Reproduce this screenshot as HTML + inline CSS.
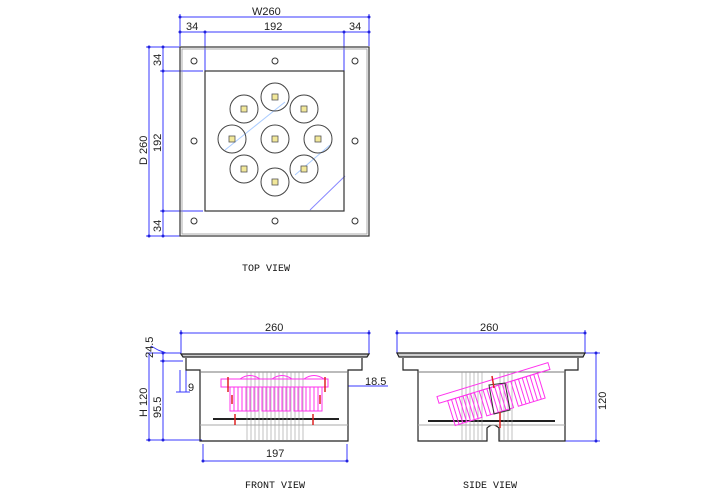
<!DOCTYPE html>
<html><head><meta charset="utf-8"><style>
html,body{margin:0;padding:0;background:#fff;}
svg{display:block}
text{font-family:"Liberation Sans",sans-serif;font-size:11px;fill:#222}
.m{font-family:"Liberation Mono",monospace;font-size:10px;fill:#111}
</style></head><body>
<svg width="706" height="497" viewBox="0 0 706 497" xmlns="http://www.w3.org/2000/svg">
<g stroke="#3a3aff" stroke-width="1" fill="none">
<line x1="180" y1="17" x2="369" y2="17"/><line x1="180" y1="14" x2="180" y2="46"/><line x1="369" y1="14" x2="369" y2="46"/>
<line x1="180" y1="32" x2="369" y2="32"/><line x1="205" y1="32" x2="205" y2="71"/><line x1="344" y1="32" x2="344" y2="71"/>
<line x1="149" y1="47" x2="149" y2="236"/><line x1="163" y1="47" x2="163" y2="236"/>
<line x1="146" y1="47" x2="180" y2="47"/><line x1="160" y1="71" x2="203" y2="71"/><line x1="160" y1="211" x2="203" y2="211"/><line x1="146" y1="236" x2="180" y2="236"/>
<line x1="310" y1="210" x2="345" y2="176" stroke="#8888ff"/>
<line x1="225" y1="150" x2="285" y2="102" stroke="#aaccff"/>
<line x1="295" y1="175" x2="330" y2="145" stroke="#aaccff"/>
<line x1="181" y1="333" x2="369" y2="333"/><line x1="181" y1="330" x2="181" y2="354"/><line x1="369" y1="330" x2="369" y2="354"/>
<line x1="149" y1="353" x2="149" y2="440"/><line x1="163" y1="353" x2="163" y2="440"/>
<line x1="146" y1="353" x2="181" y2="353"/><line x1="160" y1="361" x2="183" y2="361"/><line x1="146" y1="440" x2="202" y2="440"/>
<line x1="180" y1="370" x2="180" y2="392"/><line x1="186" y1="370" x2="186" y2="392"/><line x1="176" y1="392" x2="190" y2="392"/>
<line x1="348" y1="386" x2="388" y2="386"/>
<line x1="203" y1="444" x2="203" y2="462"/><line x1="347" y1="444" x2="347" y2="462"/><line x1="203" y1="461" x2="347" y2="461"/>
<line x1="151" y1="346" x2="158" y2="350"/><line x1="158" y1="350" x2="166" y2="353"/>
<line x1="397" y1="333" x2="585" y2="333"/><line x1="397" y1="330" x2="397" y2="354"/><line x1="585" y1="330" x2="585" y2="354"/>
<line x1="596" y1="353" x2="596" y2="441"/><line x1="585" y1="353" x2="600" y2="353"/><line x1="565" y1="441" x2="600" y2="441"/>
</g>
<g fill="#2222dd">
<circle cx="180" cy="17" r="1.5"/><circle cx="369" cy="17" r="1.5"/><circle cx="180" cy="32" r="1.5"/><circle cx="205" cy="32" r="1.5"/><circle cx="344" cy="32" r="1.5"/><circle cx="369" cy="32" r="1.5"/>
<circle cx="149" cy="47" r="1.5"/><circle cx="149" cy="236" r="1.5"/><circle cx="163" cy="47" r="1.5"/><circle cx="163" cy="71" r="1.5"/><circle cx="163" cy="211" r="1.5"/><circle cx="163" cy="236" r="1.5"/>
<circle cx="181" cy="333" r="1.5"/><circle cx="369" cy="333" r="1.5"/><circle cx="203" cy="461" r="1.5"/><circle cx="347" cy="461" r="1.5"/>
<circle cx="149" cy="440" r="1.5"/><circle cx="163" cy="440" r="1.5"/><circle cx="163" cy="353" r="1.5"/><circle cx="163" cy="361" r="1.5"/>
<circle cx="397" cy="333" r="1.5"/><circle cx="585" cy="333" r="1.5"/><circle cx="596" cy="353" r="1.5"/><circle cx="596" cy="441" r="1.5"/>
</g>
<rect x="180" y="47" width="189" height="189" fill="none" stroke="#333" stroke-width="1.2"/>
<rect x="182" y="49" width="185" height="185" fill="none" stroke="#999" stroke-width="0.8"/>
<rect x="205" y="71" width="139" height="140" fill="none" stroke="#333" stroke-width="1.2"/>
<g fill="none" stroke="#333" stroke-width="1">
<circle cx="194" cy="61" r="3"/><circle cx="275" cy="61" r="3"/><circle cx="355" cy="61" r="3"/>
<circle cx="194" cy="141" r="3"/><circle cx="355" cy="141" r="3"/>
<circle cx="194" cy="221" r="3"/><circle cx="275" cy="221" r="3"/><circle cx="355" cy="221" r="3"/>
<g stroke="#444">
<circle cx="275" cy="97" r="14"/><circle cx="244" cy="109" r="14"/><circle cx="304" cy="109" r="14"/>
<circle cx="232" cy="139" r="14"/><circle cx="275" cy="139" r="14"/><circle cx="318" cy="139" r="14"/>
<circle cx="244" cy="169" r="14"/><circle cx="304" cy="169" r="14"/><circle cx="275" cy="182" r="14"/>
</g></g>
<g fill="#f2e89a" stroke="#555" stroke-width="0.8">
<rect x="272" y="94" width="6" height="6"/><rect x="241" y="106" width="6" height="6"/><rect x="301" y="106" width="6" height="6"/>
<rect x="229" y="136" width="6" height="6"/><rect x="272" y="136" width="6" height="6"/><rect x="315" y="136" width="6" height="6"/>
<rect x="241" y="166" width="6" height="6"/><rect x="301" y="166" width="6" height="6"/><rect x="272" y="179" width="6" height="6"/>
</g>
<text x="242" y="271" class="m">TOP  VIEW</text>
<text x="245" y="488" class="m">FRONT  VIEW</text>
<text x="463" y="488" class="m">SIDE  VIEW</text>
<text x="252" y="15">W260</text>
<text x="186" y="30">34</text><text x="264" y="30">192</text><text x="349" y="30">34</text>
<text transform="translate(147,165) rotate(-90)">D 260</text>
<text transform="translate(161,152) rotate(-90)">192</text>
<text transform="translate(161,66) rotate(-90)">34</text>
<text transform="translate(161,232) rotate(-90)">34</text>
<text x="265" y="331">260</text><text x="480" y="331">260</text>
<text x="266" y="457">197</text>
<text x="365" y="385">18.5</text>
<text x="188" y="391">9</text>
<text transform="translate(147,417) rotate(-90)">H 120</text>
<text transform="translate(161,418) rotate(-90)">95.5</text>
<text transform="translate(153,358) rotate(-90)">24.5</text>
<text transform="translate(606,410) rotate(-90)">120</text>
<g fill="none" stroke="#222">
<path d="M181 354 L369 354 L367 357 L183 357 Z" fill="#ccc" stroke-width="1.2"/>
<path d="M186 358 L186 370 L200 370 L200 441 L348 441 L348 370 L362 370 L362 358" stroke-width="1.2"/>
<line x1="200" y1="372" x2="348" y2="372" stroke="#777"/>
<line x1="200" y1="425" x2="348" y2="425" stroke="#aaa"/>
<line x1="213" y1="419" x2="339" y2="419" stroke-width="2"/>
</g>
<g stroke="#999" stroke-width="0.6">
<line x1="247" y1="372" x2="247" y2="440"/><line x1="251" y1="372" x2="251" y2="440"/><line x1="255" y1="372" x2="255" y2="440"/><line x1="259" y1="372" x2="259" y2="440"/><line x1="263" y1="372" x2="263" y2="440"/><line x1="267" y1="372" x2="267" y2="440"/><line x1="271" y1="372" x2="271" y2="440"/><line x1="275" y1="372" x2="275" y2="440"/><line x1="279" y1="372" x2="279" y2="440"/><line x1="283" y1="372" x2="283" y2="440"/><line x1="287" y1="372" x2="287" y2="440"/><line x1="291" y1="372" x2="291" y2="440"/><line x1="295" y1="372" x2="295" y2="440"/><line x1="299" y1="372" x2="299" y2="440"/><line x1="303" y1="372" x2="303" y2="440"/>
</g>
<g stroke="#ff33ee" fill="none" stroke-width="1">
<rect x="221" y="379" width="107" height="8"/>
<path d="M240 379 Q250 372 260 379 M272 379 Q282 372 292 379 M304 379 Q314 372 324 379"/>
<rect x="230" y="387" width="28" height="24"/><rect x="262" y="387" width="28" height="24"/><rect x="294" y="387" width="28" height="24"/>
<path d="M234 387V411M238 387V411M242 387V411M246 387V411M250 387V411M254 387V411M266 387V411M270 387V411M274 387V411M278 387V411M282 387V411M286 387V411M298 387V411M302 387V411M306 387V411M310 387V411M314 387V411M318 387V411"/>
</g>
<g stroke="#dd2222" stroke-width="1.5"><line x1="228" y1="377" x2="228" y2="392"/><line x1="325" y1="377" x2="325" y2="392"/><line x1="232" y1="395" x2="232" y2="404"/><line x1="320" y1="395" x2="320" y2="404"/><line x1="235" y1="414" x2="235" y2="425"/><line x1="313" y1="414" x2="313" y2="425"/></g>
<g fill="none" stroke="#222">
<path d="M397 353 L585 353 L583 357 L399 357 Z" fill="#ccc" stroke-width="1.2"/>
<path d="M403 358 L403 370 L418 370 L418 441 L487 441 L487 428 Q493 422 499 428 L499 441 L565 441 L565 370 L578 370 L578 358" stroke-width="1.2"/>
<line x1="418" y1="372" x2="565" y2="372" stroke="#777"/>
<line x1="428" y1="421" x2="555" y2="421" stroke-width="2"/>
<line x1="418" y1="425" x2="565" y2="425" stroke="#aaa"/>
</g>
<g stroke="#999" stroke-width="0.6">
<line x1="462" y1="372" x2="462" y2="440"/><line x1="466" y1="372" x2="466" y2="440"/><line x1="470" y1="372" x2="470" y2="440"/><line x1="474" y1="372" x2="474" y2="440"/><line x1="478" y1="372" x2="478" y2="440"/><line x1="482" y1="372" x2="482" y2="440"/><line x1="500" y1="372" x2="500" y2="440"/><line x1="504" y1="372" x2="504" y2="440"/><line x1="508" y1="372" x2="508" y2="440"/><line x1="512" y1="372" x2="512" y2="440"/>
</g>
<g transform="rotate(-17 492 385)" stroke="#ff33ee" fill="none">
<rect x="436" y="380" width="116" height="7"/>
<rect x="445" y="387" width="28" height="26"/><rect x="478" y="387" width="28" height="26"/><rect x="511" y="387" width="28" height="26"/>
<path d="M449 387V413M453 387V413M457 387V413M461 387V413M465 387V413M469 387V413M482 387V413M486 387V413M490 387V413M494 387V413M498 387V413M502 387V413M515 387V413M519 387V413M523 387V413M527 387V413M531 387V413M535 387V413"/>
</g>
<path d="M489 385 L505 383 L510 410 L494 414 Z" fill="none" stroke="#333"/>
<g stroke="#dd2222" stroke-width="1.5"><line x1="492" y1="376" x2="494" y2="388"/><line x1="500" y1="412" x2="500" y2="428"/></g>
</svg>
</body></html>
